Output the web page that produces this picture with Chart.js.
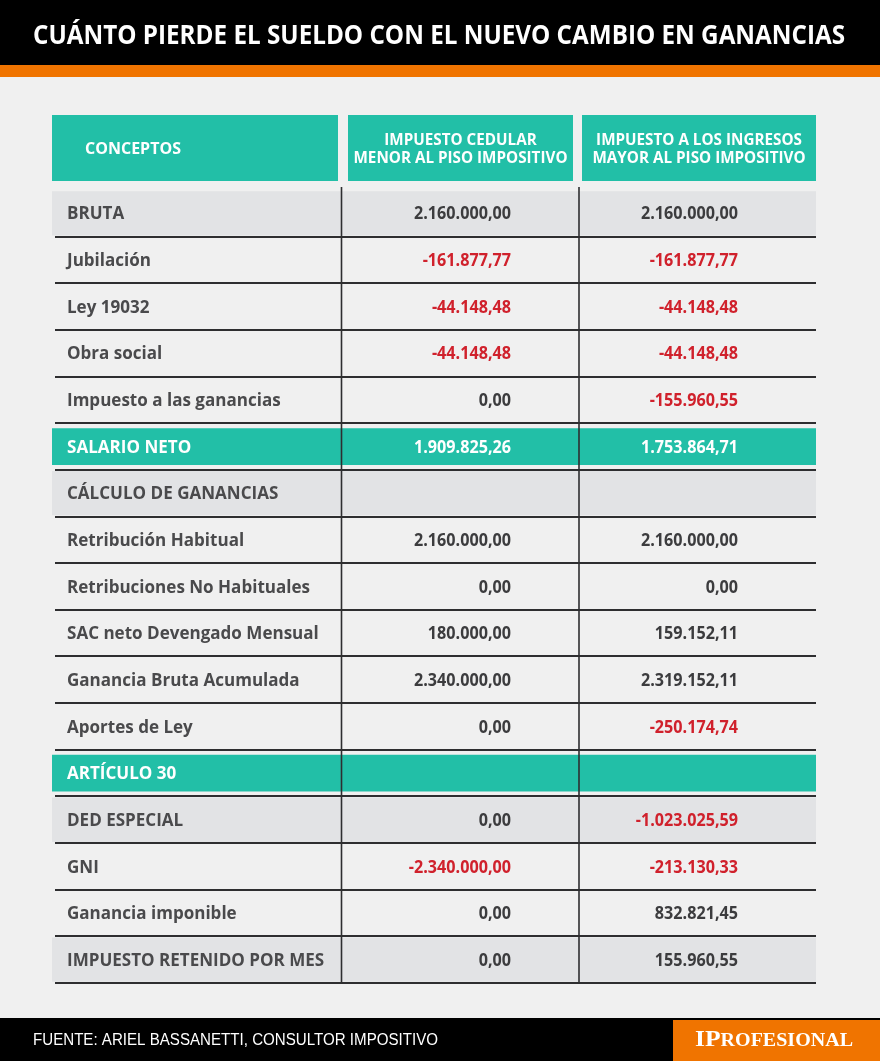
<!DOCTYPE html>
<html>
<head>
<meta charset="utf-8">
<script src="https://cdn.jsdelivr.net/npm/chart.js@4"></script>
<style>
  html, body { margin: 0; padding: 0; background: #f0f0f0; }
  canvas { display: block; }
</style>
</head>
<body>
<canvas id="tabla" width="880" height="1061"></canvas>
<script>
const title = 'CUÁNTO PIERDE EL SUELDO CON EL NUEVO CAMBIO EN GANANCIAS';
const source = 'FUENTE: ARIEL BASSANETTI, CONSULTOR IMPOSITIVO';

const columnHeaders = [
  ['CONCEPTOS'],
  ['IMPUESTO CEDULAR', 'MENOR AL PISO IMPOSITIVO'],
  ['IMPUESTO A LOS INGRESOS', 'MAYOR AL PISO IMPOSITIVO']
];

const rowLabels = [
  'BRUTA', 'Jubilación', 'Ley 19032', 'Obra social', 'Impuesto a las ganancias',
  'SALARIO NETO', 'CÁLCULO DE GANANCIAS', 'Retribución Habitual',
  'Retribuciones No Habituales', 'SAC neto Devengado Mensual',
  'Ganancia Bruta Acumulada', 'Aportes de Ley', 'ARTÍCULO 30', 'DED ESPECIAL',
  'GNI', 'Ganancia imponible', 'IMPUESTO RETENIDO POR MES'
];

// gray = shaded row, teal = section row, plain = no fill
const rowStyle = [
  'gray', 'plain', 'plain', 'plain', 'plain',
  'teal', 'gray', 'plain',
  'plain', 'plain',
  'plain', 'plain', 'teal', 'gray',
  'plain', 'plain', 'gray'
];

const cedular = [
  2160000.00, -161877.77, -44148.48, -44148.48, 0.00,
  1909825.26, null, 2160000.00,
  0.00, 180000.00,
  2340000.00, 0.00, null, 0.00,
  -2340000.00, 0.00, 0.00
];

const ingresos = [
  2160000.00, -161877.77, -44148.48, -44148.48, -155960.55,
  1753864.71, null, 2160000.00,
  0.00, 159152.11,
  2319152.11, -250174.74, null, -1023025.59,
  -213130.33, 832821.45, 155960.55
];

const TEAL = '#22bfa7';
const GRAY = '#e2e3e5';
const RED = '#d0212c';
const ORANGE = '#f07400';
const LABEL = '#4a4a4c';
const VALUE = '#3c3c3e';
const LINE = '#2e2e30';

function fmt(v) {
  const parts = Math.abs(v).toFixed(2).split('.');
  const int = parts[0].replace(/\B(?=(\d{3})+(?!\d))/g, '.');
  return (v < 0 ? '-' : '') + int + ',' + parts[1];
}

// draws text squeezed horizontally by sx
function squeezed(ctx, text, x, y, sx, align) {
  ctx.save();
  ctx.translate(x, y);
  ctx.scale(sx, 1);
  ctx.textAlign = align;
  ctx.fillText(text, 0, 0);
  ctx.restore();
}

function fitWidth(ctx, text, width) {
  return width / ctx.measureText(text).width;
}

const tablePlugin = {
  id: 'tabla',
  beforeDraw(chart) {
    const { ctx, width, height, chartArea } = chart;
    ctx.save();
    ctx.fillStyle = '#f0f0f0';
    ctx.fillRect(0, 0, width, height);

    // title bar
    ctx.fillStyle = '#000';
    ctx.fillRect(0, 0, width, 65);
    ctx.fillStyle = ORANGE;
    ctx.fillRect(0, 65, width, 12);
    ctx.fillStyle = '#fff';
    ctx.font = '700 27px "Open Sans"';
    ctx.textBaseline = 'middle';
    squeezed(ctx, title, 33, 36, fitWidth(ctx, title, 812), 'left');

    // header cells
    const top = chartArea.top - 75;
    const bottom = chartArea.top - 9;
    const cells = [[52, 338], [348, 573], [582, 816]];
    ctx.font = '700 16.5px "Open Sans"';
    const hs = fitWidth(ctx, columnHeaders[1][1], 214);
    cells.forEach(([x0, x1], i) => {
      ctx.fillStyle = TEAL;
      ctx.fillRect(x0, top, x1 - x0, bottom - top);
      ctx.fillStyle = '#fff';
      const lines = columnHeaders[i];
      const mid = (top + bottom) / 2;
      if (i === 0) {
        squeezed(ctx, lines[0], 85, mid + 1, 0.97, 'left');
      } else {
        squeezed(ctx, lines[0], (x0 + x1) / 2, mid - 8, hs, 'center');
        squeezed(ctx, lines[1], (x0 + x1) / 2, mid + 10, hs, 'center');
      }
    });

    // footer
    ctx.fillStyle = '#000';
    ctx.fillRect(0, 1018, width, height - 1018);
    ctx.fillStyle = ORANGE;
    ctx.fillRect(673, 1020, width - 673, height - 1020);
    ctx.fillStyle = '#fff';
    ctx.font = '400 16px "Liberation Sans"';
    squeezed(ctx, source, 33, 1041, fitWidth(ctx, source, 405), 'left');

    ctx.textBaseline = 'alphabetic';
    ctx.font = '700 23px "Liberation Serif"';
    const big = 'IP';
    const wBig = ctx.measureText(big).width;
    ctx.font = '700 18px "Liberation Serif"';
    const small = 'ROFESIONAL';
    const wSmall = ctx.measureText(small).width;
    const ls = 158 / (wBig + wSmall);
    ctx.save();
    ctx.translate(695, 1046);
    ctx.scale(ls, 1);
    ctx.textAlign = 'left';
    ctx.font = '700 23px "Liberation Serif"';
    ctx.fillText(big, 0, 0);
    ctx.font = '700 18px "Liberation Serif"';
    ctx.fillText(small, wBig, 0);
    ctx.restore();
    ctx.restore();
  },
  afterDatasetsDraw(chart) {
    const { ctx, chartArea } = chart;
    const y = chart.scales.y;
    const pitch = y.getPixelForValue(1) - y.getPixelForValue(0);
    const colSep = [341.5, 579];
    const colRight = [511, 738];
    ctx.save();

    // row rules
    ctx.strokeStyle = LINE;
    ctx.lineWidth = 2;
    rowLabels.forEach((_, i) => {
      const yy = Math.round(y.getPixelForValue(i) + pitch / 2);
      ctx.beginPath();
      ctx.moveTo(55, yy);
      ctx.lineTo(chartArea.right, yy);
      ctx.stroke();
    });
    ctx.lineWidth = 1.6;
    const yEnd = Math.round(y.getPixelForValue(rowLabels.length - 1) + pitch / 2) + 1;
    colSep.forEach(x => {
      ctx.beginPath();
      ctx.moveTo(x, chartArea.top - 3);
      ctx.lineTo(x, yEnd);
      ctx.stroke();
    });

    // texts
    ctx.textBaseline = 'middle';
    ctx.font = '700 18px "Open Sans"';
    const labelScale = fitWidth(ctx, 'Retribuciones No Habituales', 243);
    const valueScale = fitWidth(ctx, fmt(2160000), 97);
    rowLabels.forEach((label, i) => {
      const yy = y.getPixelForValue(i) + 1;
      const onTeal = rowStyle[i] === 'teal';
      ctx.fillStyle = onTeal ? '#fff' : LABEL;
      squeezed(ctx, label, 67, yy, labelScale, 'left');
      [cedular[i], ingresos[i]].forEach((v, c) => {
        if (v === null) return;
        ctx.fillStyle = onTeal ? '#fff' : (v < 0 ? RED : VALUE);
        squeezed(ctx, fmt(v), colRight[c], yy, valueScale, 'right');
      });
    });
    ctx.restore();
  }
};

new Chart(document.getElementById('tabla'), {
  type: 'bar',
  data: {
    labels: rowLabels,
    datasets: [
      {
        label: 'filas grises',
        data: rowStyle.map(s => (s === 'gray' ? [0, 1] : null)),
        backgroundColor: GRAY,
        barPercentage: 0.95,
        categoryPercentage: 1,
        grouped: false
      },
      {
        label: 'filas verdes',
        data: rowStyle.map(s => (s === 'teal' ? [0, 1] : null)),
        backgroundColor: TEAL,
        barPercentage: 0.79,
        categoryPercentage: 1,
        grouped: false
      }
    ]
  },
  options: {
    indexAxis: 'y',
    responsive: false,
    animation: false,
    devicePixelRatio: 1,
    layout: { padding: { left: 52, right: 64, top: 190, bottom: 78 } },
    scales: {
      x: { display: false, min: 0, max: 1 },
      y: { display: false }
    },
    plugins: {
      legend: { display: false },
      tooltip: { enabled: false }
    }
  },
  plugins: [tablePlugin]
});
</script>
</body>
</html>
